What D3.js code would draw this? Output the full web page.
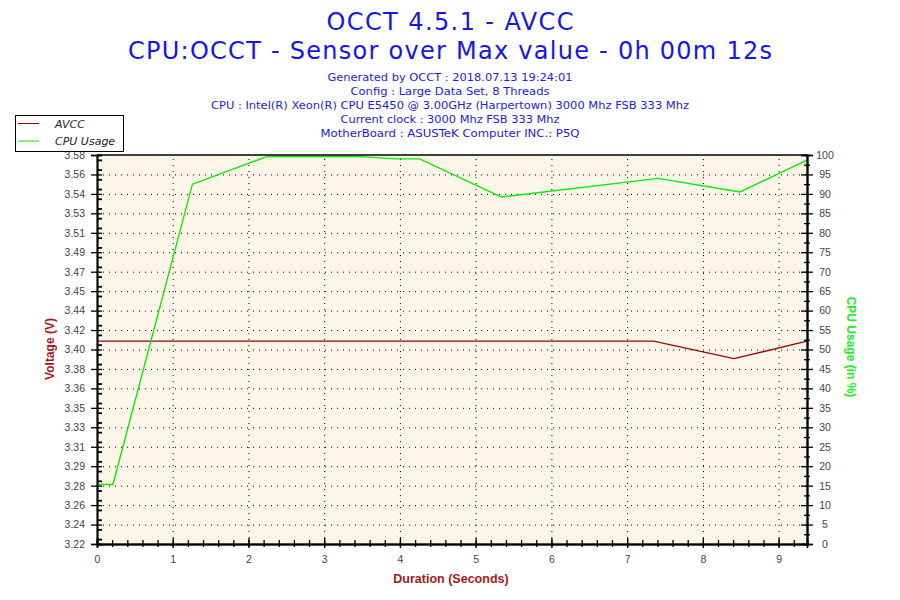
<!DOCTYPE html>
<html>
<head>
<meta charset="utf-8">
<script src="https://cdn.jsdelivr.net/npm/d3@7"></script>
<style>
  body { margin: 0; background: #fff; }
  svg { display: block; }
</style>
</head>
<body>
<svg id="chart" width="900" height="600"></svg>
<script>
// values
const cpuTime  = [0, 0.21, 1.26, 2.24, 3.5, 3.94, 4.26, 5.34, 7.41, 8.49, 9.375];
const cpuUsage = [15.3, 15.3, 92.5, 99.6, 99.6, 99, 99, 89.2, 94.0, 90.5, 98.7];
const avccTime = [0, 7.35, 8.41, 9.375];
const avccVolt = [3.408, 3.408, 3.392, 3.408];

const durationMax = 9.375;
const voltMin = 3.2224, voltMax = 3.5784;
const durationTicks = [0, 1, 2, 3, 4, 5, 6, 7, 8, 9];
const voltLabels = ["3.22","3.24","3.26","3.28","3.29","3.31","3.33","3.35","3.36","3.38","3.40",
                    "3.42","3.44","3.45","3.47","3.49","3.51","3.53","3.54","3.56","3.58"];
const cpuTicks = [0,5,10,15,20,25,30,35,40,45,50,55,60,65,70,75,80,85,90,95,100];

const titles = ["OCCT 4.5.1 - AVCC", "CPU:OCCT - Sensor over Max value - 0h 00m 12s"];
const infoLines = [
  "Generated by OCCT : 2018.07.13 19:24:01",
  "Config : Large Data Set, 8 Threads",
  "CPU : Intel(R) Xeon(R) CPU E5450 @ 3.00GHz (Harpertown) 3000 Mhz FSB 333 Mhz",
  "Current clock : 3000 Mhz FSB 333 Mhz",
  "MotherBoard : ASUSTeK Computer INC.: P5Q"
];
const legendNames = ["AVCC", "CPU Usage"];

const svg = d3.select("#chart");
const plot = {left: 97, right: 807, top: 155, bottom: 544};

const x = d3.scaleLinear().domain([0, durationMax]).range([plot.left, plot.right]);
const yV = d3.scaleLinear().domain([voltMin, voltMax]).range([plot.bottom, plot.top]);
const yC = d3.scaleLinear().domain([0, 100]).range([plot.bottom, plot.top]);

// voltage ticks sit on the same 20 steps as the cpu ticks
let voltTicks = voltLabels.map((d, i) => voltMin + i * (voltMax - voltMin) / 20);

// titles
const titleLen = [247, 644];
svg.selectAll(".title").data(titles).join("text")
  .attr("x", 450).attr("y", (d, i) => [30, 59][i])
  .attr("text-anchor", "middle")
  .attr("font-family", "DejaVu Sans").attr("font-size", 24)
  .attr("fill", "#1515ee")
  .attr("textLength", (d, i) => titleLen[i]).attr("lengthAdjust", "spacing")
  .text(d => d);

const infoLen = [245, 199, 478, 219, 259];
svg.selectAll(".info").data(infoLines).join("text")
  .attr("x", 450).attr("y", (d, i) => 81 + i * 13.9)
  .attr("text-anchor", "middle")
  .attr("font-family", "DejaVu Sans").attr("font-size", 11)
  .attr("fill", "#1a1aee")
  .attr("textLength", (d, i) => infoLen[i]).attr("lengthAdjust", "spacingAndGlyphs")
  .text(d => d);

// plot background
svg.append("rect")
  .attr("x", plot.left).attr("y", plot.top)
  .attr("width", plot.right - plot.left).attr("height", plot.bottom - plot.top)
  .attr("fill", "#fdf6e8");

// dotted grid
let gridY = svg.append("g").attr("transform", `translate(${plot.left},0)`)
  .call(d3.axisLeft(yV).tickValues(voltTicks.slice(1, -1)).tickSize(-(plot.right - plot.left)).tickFormat(""));
let gridX = svg.append("g").attr("transform", `translate(0,${plot.bottom})`)
  .call(d3.axisBottom(x).tickValues(durationTicks.slice(1)).tickSize(-(plot.bottom - plot.top)).tickFormat(""));
[gridY, gridX].forEach(g => {
  g.select(".domain").remove();
  g.selectAll("line").attr("stroke", "#000").attr("stroke-dasharray", "1,5");
});

// lines
const avccLine = d3.line().x(d => x(d[0])).y(d => yV(d[1]));
const cpuLine = d3.line().x(d => x(d[0])).y(d => yC(d[1]));

svg.append("path")
  .datum(avccTime.map((t, i) => [t, avccVolt[i]]))
  .attr("d", avccLine).attr("fill", "none")
  .attr("stroke", "#a00000").attr("stroke-width", 1.3);

svg.append("path")
  .datum(cpuTime.map((t, i) => [t, cpuUsage[i]]))
  .attr("d", cpuLine).attr("fill", "none")
  .attr("stroke", "#00ee00").attr("stroke-width", 1.3);

// frame top
svg.append("line")
  .attr("x1", plot.left).attr("x2", plot.right)
  .attr("y1", plot.top).attr("y2", plot.top)
  .attr("stroke", "#000").attr("stroke-width", 1.5);

function styleAxis(g) {
  g.select(".domain").attr("stroke", "#000").attr("stroke-width", 1.5);
  g.selectAll(".tick line").attr("stroke", "#000").attr("stroke-width", 1.3);
  g.selectAll("text").attr("font-family", "Liberation Sans, Arial, sans-serif")
    .attr("font-size", 10.5).attr("fill", "#444");
}

// bottom axis
let minorX = d3.range(0, durationMax, 0.2);
svg.append("g").attr("transform", `translate(0,${plot.bottom})`)
  .call(d3.axisBottom(x).tickValues(minorX).tickSizeOuter(0).tickSize(-4).tickFormat(""))
  .call(styleAxis);
svg.append("g").attr("transform", `translate(0,${plot.bottom})`)
  .call(d3.axisBottom(x).tickValues(minorX).tickSizeOuter(0).tickSize(3).tickFormat(""))
  .call(styleAxis);
svg.append("g").attr("transform", `translate(0,${plot.bottom})`)
  .call(d3.axisBottom(x).tickValues(durationTicks).tickSizeOuter(0).tickSize(-6).tickFormat(""))
  .call(styleAxis);
svg.append("g").attr("transform", `translate(0,${plot.bottom})`)
  .call(d3.axisBottom(x).tickValues(durationTicks).tickSizeOuter(0).tickSize(4).tickPadding(8).tickFormat(d3.format("d")))
  .call(styleAxis);

// left axis
let minorV = d3.range(0, 40).map(i => voltMin + (i + 0.5) * (voltMax - voltMin) / 40);
svg.append("g").attr("transform", `translate(${plot.left},0)`)
  .call(d3.axisLeft(yV).tickValues(minorV).tickSizeOuter(0).tickSize(-5).tickFormat(""))
  .call(styleAxis)
  .selectAll(".tick line").attr("stroke-width", 1.8);
svg.append("g").attr("transform", `translate(${plot.left},0)`)
  .call(d3.axisLeft(yV).tickValues(voltTicks).tickSizeOuter(0).tickSize(-5).tickFormat(""))
  .call(styleAxis);
svg.append("g").attr("transform", `translate(${plot.left},0)`)
  .call(d3.axisLeft(yV).tickValues(voltTicks).tickSizeOuter(0).tickSize(6).tickPadding(6)
    .tickFormat((d, i) => voltLabels[i]))
  .call(styleAxis);

// right axis
let minorC = d3.range(2.5, 100, 5);
svg.append("g").attr("transform", `translate(${plot.right},0)`)
  .call(d3.axisRight(yC).tickValues(minorC).tickSizeOuter(0).tickSize(-3).tickFormat(""))
  .call(styleAxis);
svg.append("g").attr("transform", `translate(${plot.right},0)`)
  .call(d3.axisRight(yC).tickValues(minorC).tickSizeOuter(0).tickSize(3).tickFormat(""))
  .call(styleAxis);
svg.append("g").attr("transform", `translate(${plot.right},0)`)
  .call(d3.axisRight(yC).tickValues(cpuTicks).tickSizeOuter(0).tickSize(-6).tickFormat(""))
  .call(styleAxis);
let rightAxis = svg.append("g").attr("transform", `translate(${plot.right},0)`)
  .call(d3.axisRight(yC).tickValues(cpuTicks).tickSizeOuter(0).tickSize(6))
  .call(styleAxis);
rightAxis.selectAll("text").attr("text-anchor", "middle").attr("x", 18);

// axis titles
svg.append("text")
  .attr("transform", "translate(54,349) rotate(-90)")
  .attr("text-anchor", "middle")
  .attr("font-family", "Liberation Sans, Arial, sans-serif")
  .attr("font-weight", "bold").attr("font-size", 12)
  .attr("fill", "#a81818")
  .text("Voltage (V)");

svg.append("text")
  .attr("transform", "translate(847,347) rotate(90)")
  .attr("text-anchor", "middle")
  .attr("font-family", "Liberation Sans, Arial, sans-serif")
  .attr("font-weight", "bold").attr("font-size", 12)
  .attr("fill", "#22ee22")
  .text("CPU Usage (in %)");

svg.append("text")
  .attr("x", 451).attr("y", 583)
  .attr("text-anchor", "middle")
  .attr("font-family", "Liberation Sans, Arial, sans-serif")
  .attr("font-weight", "bold").attr("font-size", 12.5)
  .attr("fill", "#a81818")
  .text("Duration (Seconds)");

// legend
const legendColors = ["#a00000", "#00ee00"];
let legend = svg.append("g");
legend.append("rect")
  .attr("x", 15.5).attr("y", 115.5).attr("width", 108).attr("height", 36)
  .attr("fill", "#fff").attr("stroke", "#000");
let items = legend.selectAll(".item").data(legendNames).join("g")
  .attr("transform", (d, i) => `translate(0,${123.5 + i * 17.5})`);
items.append("line")
  .attr("x1", 18).attr("x2", 39).attr("y1", 0).attr("y2", 0)
  .attr("stroke", (d, i) => legendColors[i]).attr("stroke-width", 1);
items.append("text")
  .attr("x", 55).attr("y", 4)
  .attr("font-family", "DejaVu Sans").attr("font-style", "italic").attr("font-size", 11)
  .attr("fill", "#222")
  .text(d => d);
</script>
</body>
</html>
